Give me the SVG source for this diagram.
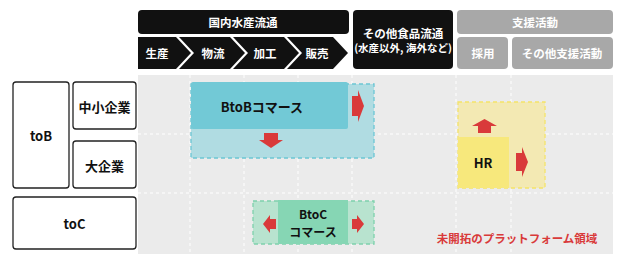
<svg xmlns="http://www.w3.org/2000/svg" width="626" height="264" viewBox="0 0 626 264">
<style>
text{font-family:"Noto Sans CJK JP","Liberation Sans",sans-serif;font-weight:bold;text-anchor:middle;dominant-baseline:central}
.hw{fill:#fff;font-size:11.5px}
.blk{fill:#111}
.gry{fill:#a8a8a8}
.lbl{fill:#fff;stroke:#222;stroke-width:1.3}
.lt{fill:#111;font-size:13px}
.grid{stroke:#fff;stroke-width:1;stroke-dasharray:3 3;fill:none}
.arr{fill:#d93a3a}
</style>
<g id="header-domestic">
<rect class="blk" x="138" y="10" width="211" height="24" rx="4"/>
<text class="hw" x="243" y="22">国内水産流通</text>
</g>
<g id="step-seisan">
<polygon class="blk" points="138,37 176,37 191,53 176,69 138,69"/>
<text class="hw" x="157" y="53">生産</text>
</g>
<g id="step-butsuryu">
<polygon class="blk" points="179,37 230,37 245,53 230,69 179,69 194,53"/>
<text class="hw" x="213" y="53">物流</text>
</g>
<g id="step-kako">
<polygon class="blk" points="233,37 284,37 299,53 284,69 233,69 248,53"/>
<text class="hw" x="265" y="53">加工</text>
</g>
<g id="step-hanbai">
<polygon class="blk" points="287,37 333,37 348,53 333,69 287,69 302,53"/>
<text class="hw" x="317" y="53">販売</text>
</g>
<g id="header-other-food">
<rect class="blk" x="353" y="10" width="100" height="59" rx="4"/>
<text class="hw" x="403" y="33">その他食品流通</text>
<text class="hw" x="403" y="47" style="font-size:10.5px">(水産以外, 海外など)</text>
</g>
<g id="header-support">
<rect class="gry" x="457" y="10" width="156" height="24" rx="4"/>
<text class="hw" x="535" y="22">支援活動</text>
</g>
<g id="support-saiyo">
<rect class="gry" x="457" y="37" width="51" height="32" rx="4"/>
<text class="hw" x="483" y="53">採用</text>
</g>
<g id="support-other">
<rect class="gry" x="512" y="37" width="101" height="32" rx="4"/>
<text class="hw" x="562" y="53">その他支援活動</text>
</g>
<g id="background">
<rect x="138" y="75" width="475" height="179" fill="#ebebeb"/>
<path class="grid" d="M190 75V254M244 75V254M298 75V254M352 75V254M456 75V254M511 75V254M138 134H613M138 193H613"/>
</g>
<g id="row-tob">
<rect class="lbl" x="13" y="82" width="56" height="106" rx="3"/>
<text class="lt" x="41" y="135">toB</text>
</g>
<g id="row-sme">
<rect class="lbl" x="73" y="82" width="63" height="47" rx="3"/>
<text class="lt" x="104.5" y="106">中小企業</text>
</g>
<g id="row-large">
<rect class="lbl" x="73" y="141" width="63" height="47" rx="3"/>
<text class="lt" x="104.5" y="165">大企業</text>
</g>
<g id="row-toc">
<rect class="lbl" x="13" y="197" width="123" height="52" rx="3"/>
<text class="lt" x="74.5" y="223">toC</text>
</g>
<g id="btob">
<rect x="191" y="84" width="183" height="74" fill="#b0dce2" stroke="#6cc6d4" stroke-width="1.3" stroke-dasharray="4 3"/>
<rect x="191" y="82" width="157" height="47" rx="2" fill="#72c9d6"/>
<text class="lt" x="262" y="106">BtoBコマース</text>
</g>
<g id="btoc">
<rect x="253" y="201" width="121" height="43" fill="#b8e3cf" stroke="#7fd1ad" stroke-width="1.3" stroke-dasharray="4 3"/>
<rect x="278" y="200" width="70" height="44" fill="#86d6b4"/>
<text class="lt" x="313" y="213" style="font-size:12px">BtoC</text>
<text class="lt" x="313" y="231" style="font-size:12px">コマース</text>
</g>
<g id="hr">
<rect x="458" y="102" width="87" height="86" fill="#f3e9b3" stroke="#f5e46a" stroke-width="1.3" stroke-dasharray="4 3"/>
<rect x="458" y="137" width="51" height="51" fill="#f7e87c"/>
<text class="lt" x="483" y="162">HR</text>
</g>
<g id="connectors">
<polygon class="arr" points="352,96 358,96 358,90 364,106 358,122 358,116 352,116"/>
<polygon class="arr" points="264,133 278,133 278,140 283,140 271,148 259,140 264,140"/>
<polygon class="arr" points="276,219 270,219 270,215 263,224 270,233 270,229 276,229"/>
<polygon class="arr" points="352,219 357,219 357,215 364,224 357,233 357,229 352,229"/>
<polygon class="arr" points="478,133 491,133 491,126 497,126 484.5,119 472,126 478,126"/>
<polygon class="arr" points="516,153 522,153 522,147 528,162 522,177 522,171 516,171"/>
</g>
<text x="517" y="238" style="fill:#d93a3a;font-size:11.5px">未開拓のプラットフォーム領域</text>
</svg>
